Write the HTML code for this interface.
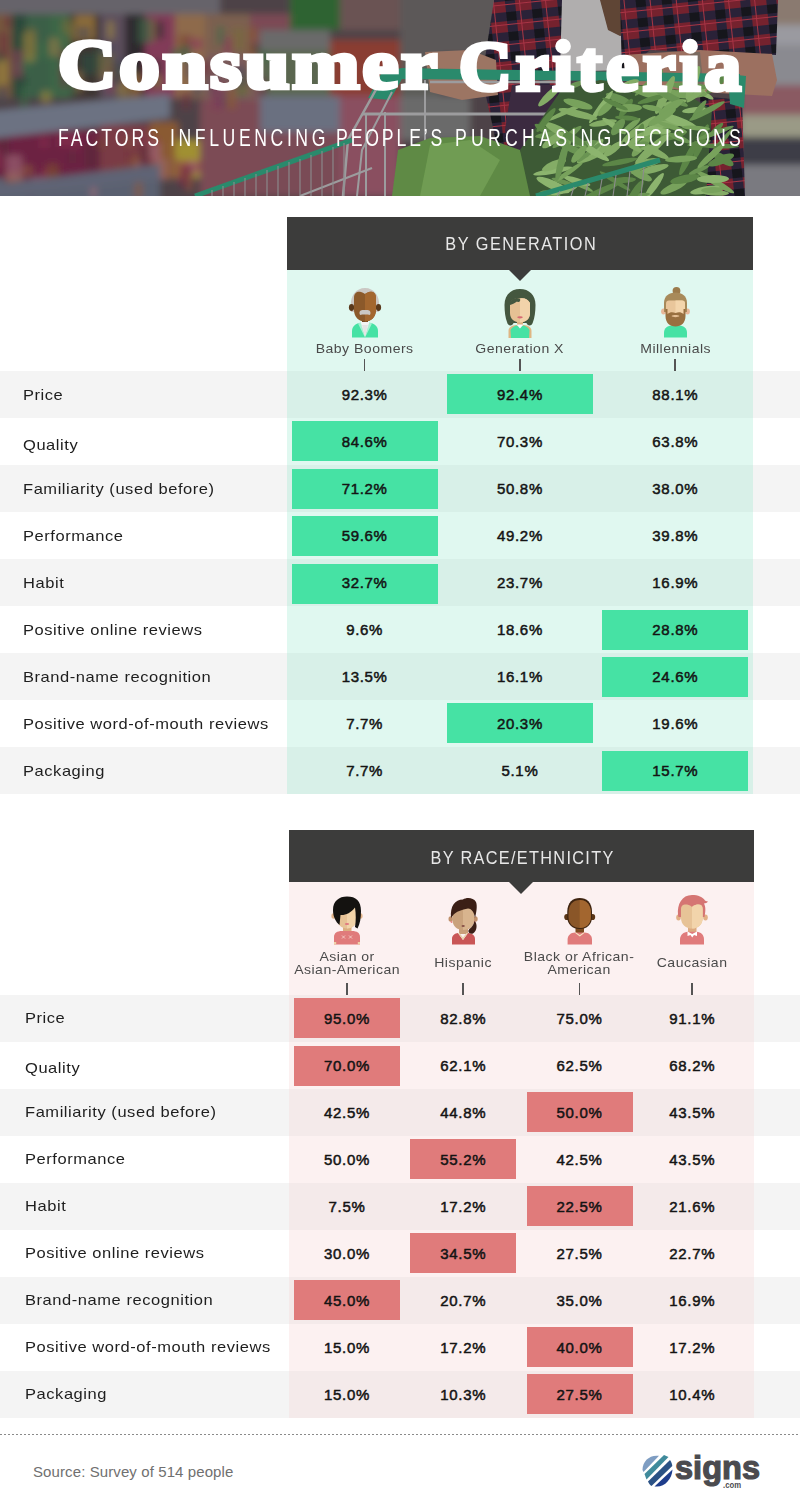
<!DOCTYPE html>
<html><head><meta charset="utf-8"><style>
*{margin:0;padding:0;box-sizing:border-box}
html,body{width:800px;height:1511px;overflow:hidden;background:#fff;font-family:"Liberation Sans",sans-serif}
.a{position:absolute}
.lbl{position:absolute;left:23px;font-size:15px;letter-spacing:0.5px;color:#1e1e1e;white-space:nowrap;line-height:17px;transform-origin:0 0;transform:scaleX(1.1)}
.pct{position:absolute;font-size:15px;letter-spacing:0.7px;color:#141414;-webkit-text-stroke:0.5px #141414;text-align:center;line-height:17px;white-space:nowrap}
.hdr{position:absolute;background:#3c3c3b;color:#e8e8e8;font-size:18.5px;text-align:center;white-space:nowrap}
.sub{position:absolute;font-size:13px;letter-spacing:0.45px;color:#4a4a4a;text-align:center;line-height:13px;white-space:nowrap;transform-origin:50% 0;transform:scaleX(1.08)}
.tick{position:absolute;width:1.6px;height:12.5px;background:#555}
</style></head><body>

<div class="a" style="left:0;top:0;width:800px;height:196px;overflow:hidden;background:#55494c">
<svg width="800" height="196" viewBox="0 0 800 196" style="position:absolute;left:0;top:0">
<defs><filter id="b1" x="-10%" y="-10%" width="120%" height="120%"><feGaussianBlur stdDeviation="3.5"/></filter>
<filter id="b2" x="-10%" y="-10%" width="120%" height="120%"><feGaussianBlur stdDeviation="0.7"/></filter>
<pattern id="pl" width="26" height="20" patternUnits="userSpaceOnUse" patternTransform="rotate(-6)"><rect width="26" height="20" fill="#74202e"/><rect x="0" y="5" width="26" height="9" fill="#2a2438"/><rect x="8" y="0" width="10" height="20" fill="#2a2438"/><rect x="8" y="5" width="10" height="9" fill="#18161f"/><rect x="0" y="17" width="26" height="1" fill="#a83444"/><rect x="22" y="0" width="1" height="20" fill="#a83444"/></pattern></defs>
<g filter="url(#b1)">
<rect x="-20" y="-20" width="840" height="240" fill="#4e4246"/>
<rect x="-20" y="-20" width="240" height="34" fill="#66646a"/>
<rect x="-20" y="14" width="32" height="84" fill="#76583e"/>
<rect x="12" y="14" width="14" height="84" fill="#2a4a3a"/>
<rect x="26" y="14" width="24" height="84" fill="#3a5e46"/>
<rect x="50" y="14" width="20" height="84" fill="#3e6646"/>
<rect x="70" y="14" width="30" height="84" fill="#3c3632"/>
<rect x="75" y="15" width="20" height="25" fill="#8a6a38"/>
<rect x="100" y="14" width="25" height="84" fill="#5c4e5c"/>
<rect x="125" y="14" width="20" height="84" fill="#2e2c2e"/>
<rect x="145" y="14" width="30" height="84" fill="#823a58"/>
<rect x="175" y="14" width="30" height="84" fill="#8e6a4c"/>
<rect x="205" y="14" width="45" height="40" fill="#7c6050"/>
<rect x="250" y="14" width="40" height="30" fill="#7c4a54"/>
<rect x="290" y="-10" width="50" height="40" fill="#2e6432"/>
<rect x="340" y="-10" width="60" height="40" fill="#6a5252"/>
<rect x="205" y="54" width="55" height="50" fill="#7a5a5a"/>
<rect x="260" y="30" width="70" height="20" fill="#6a6a6a"/>
<rect x="260" y="50" width="70" height="50" fill="#5a6650"/>
<rect x="330" y="40" width="70" height="60" fill="#8a3e30"/>
<rect x="400" y="-10" width="100" height="65" fill="#5c5858"/>
<rect x="400" y="55" width="40" height="45" fill="#5a5a56"/>
<rect x="-20" y="130" width="120" height="48" fill="#6c2242"/>
<rect x="100" y="125" width="50" height="52" fill="#7a3a44"/>
<rect x="150" y="122" width="28" height="55" fill="#8a5a32"/>
<rect x="175" y="140" width="30" height="38" fill="#a09032"/>
<rect x="200" y="100" width="60" height="96" fill="#7c4c54"/>
<rect x="260" y="96" width="100" height="36" fill="#6a7080"/>
<rect x="260" y="132" width="90" height="64" fill="#7a4c56"/>
<rect x="340" y="96" width="60" height="100" fill="#8a5060"/>
<rect x="-20" y="178" width="180" height="40" fill="#5a6070"/>
<rect x="400" y="96" width="70" height="44" fill="#6a6a6a"/>
<rect x="770" y="-20" width="50" height="45" fill="#8a7a70"/>
<rect x="770" y="25" width="50" height="20" fill="#9a9aa0"/>
<rect x="745" y="45" width="75" height="40" fill="#8a8a90"/>
<rect x="740" y="85" width="80" height="30" fill="#8a5a62"/>
<rect x="740" y="115" width="80" height="22" fill="#9a9a86"/>
<rect x="740" y="137" width="80" height="28" fill="#3e3e46"/>
<rect x="740" y="165" width="80" height="45" fill="#7a7a80"/>
<rect x="77" y="27" width="13" height="11" fill="#4a4a5a" opacity="0.6"/>
<rect x="15" y="60" width="15" height="14" fill="#3c6a48" opacity="0.6"/>
<rect x="107" y="21" width="7" height="18" fill="#a08a40" opacity="0.6"/>
<rect x="23" y="33" width="12" height="29" fill="#a08a40" opacity="0.6"/>
<rect x="148" y="20" width="8" height="21" fill="#7a6a3a" opacity="0.6"/>
<rect x="68" y="27" width="7" height="16" fill="#7a6a3a" opacity="0.6"/>
<rect x="18" y="59" width="8" height="12" fill="#3c6a48" opacity="0.6"/>
<rect x="142" y="63" width="11" height="21" fill="#6a3040" opacity="0.6"/>
<rect x="116" y="86" width="10" height="15" fill="#7a6a3a" opacity="0.6"/>
<rect x="179" y="35" width="12" height="21" fill="#6a3040" opacity="0.6"/>
<rect x="187" y="38" width="16" height="12" fill="#8a3a58" opacity="0.6"/>
<rect x="35" y="42" width="15" height="18" fill="#3c6a48" opacity="0.6"/>
<rect x="196" y="60" width="15" height="16" fill="#6a3040" opacity="0.6"/>
<rect x="150" y="60" width="11" height="27" fill="#2a2a2c" opacity="0.6"/>
<rect x="118" y="66" width="7" height="24" fill="#a08a40" opacity="0.6"/>
<rect x="258" y="78" width="9" height="18" fill="#6a3040" opacity="0.6"/>
<rect x="-4" y="51" width="8" height="12" fill="#2c5040" opacity="0.6"/>
<rect x="49" y="38" width="13" height="18" fill="#9a7a48" opacity="0.6"/>
<rect x="12" y="50" width="11" height="28" fill="#8a3a58" opacity="0.6"/>
<rect x="223" y="37" width="10" height="17" fill="#8a3a58" opacity="0.6"/>
<rect x="249" y="27" width="8" height="15" fill="#8a5a30" opacity="0.6"/>
<rect x="-7" y="79" width="8" height="16" fill="#7a6a3a" opacity="0.6"/>
<rect x="103" y="44" width="12" height="29" fill="#4a4a5a" opacity="0.6"/>
<rect x="247" y="66" width="13" height="19" fill="#4a4a5a" opacity="0.6"/>
<rect x="96" y="46" width="7" height="23" fill="#2c5040" opacity="0.6"/>
<rect x="41" y="91" width="10" height="12" fill="#a08a40" opacity="0.6"/>
<rect x="4" y="16" width="8" height="12" fill="#6a3040" opacity="0.6"/>
<rect x="156" y="21" width="8" height="18" fill="#2a2a2c" opacity="0.6"/>
<rect x="248" y="62" width="11" height="12" fill="#9a7a48" opacity="0.6"/>
<rect x="258" y="51" width="11" height="12" fill="#3c6a48" opacity="0.6"/>
<rect x="192" y="72" width="11" height="24" fill="#4a4a5a" opacity="0.6"/>
<rect x="-4" y="88" width="11" height="13" fill="#4a4a5a" opacity="0.6"/>
<rect x="237" y="74" width="9" height="23" fill="#3c6a48" opacity="0.6"/>
<rect x="178" y="36" width="10" height="13" fill="#8a5a30" opacity="0.6"/>
<rect x="134" y="75" width="9" height="14" fill="#8a5a30" opacity="0.6"/>
<rect x="208" y="78" width="13" height="15" fill="#4a4a5a" opacity="0.6"/>
<rect x="123" y="72" width="16" height="26" fill="#9a7a48" opacity="0.6"/>
<rect x="60" y="69" width="16" height="19" fill="#6a3040" opacity="0.6"/>
<rect x="248" y="44" width="8" height="15" fill="#8a5a30" opacity="0.6"/>
<rect x="81" y="53" width="16" height="22" fill="#2c5040" opacity="0.6"/>
<rect x="119" y="66" width="14" height="12" fill="#3c6a48" opacity="0.6"/>
<rect x="236" y="75" width="14" height="20" fill="#7a6a3a" opacity="0.6"/>
<rect x="107" y="64" width="7" height="29" fill="#8a3a58" opacity="0.6"/>
<rect x="115" y="72" width="7" height="13" fill="#7a6a3a" opacity="0.6"/>
<rect x="-3" y="61" width="11" height="23" fill="#a08a40" opacity="0.6"/>
<rect x="213" y="91" width="13" height="17" fill="#4a4a5a" opacity="0.6"/>
<rect x="138" y="18" width="14" height="25" fill="#3c6a48" opacity="0.6"/>
<rect x="132" y="87" width="10" height="27" fill="#8a5a30" opacity="0.6"/>
<rect x="-2" y="32" width="11" height="25" fill="#6a3040" opacity="0.6"/>
<rect x="60" y="48" width="7" height="28" fill="#6a3040" opacity="0.6"/>
<rect x="232" y="66" width="14" height="20" fill="#4a4a5a" opacity="0.6"/>
<rect x="25" y="28" width="11" height="27" fill="#7a6a3a" opacity="0.6"/>
<rect x="154" y="75" width="7" height="13" fill="#a08a40" opacity="0.6"/>
<rect x="186" y="58" width="9" height="20" fill="#4a4a5a" opacity="0.6"/>
<rect x="120" y="75" width="15" height="11" fill="#8a5a30" opacity="0.6"/>
<rect x="65" y="75" width="11" height="21" fill="#3c6a48" opacity="0.6"/>
<rect x="110" y="63" width="11" height="20" fill="#2a2a2c" opacity="0.6"/>
<rect x="112" y="57" width="11" height="29" fill="#4a4a5a" opacity="0.6"/>
<rect x="227" y="88" width="9" height="21" fill="#8a5a30" opacity="0.6"/>
<rect x="217" y="26" width="7" height="19" fill="#3c6a48" opacity="0.6"/>
<rect x="171" y="49" width="8" height="16" fill="#3c6a48" opacity="0.6"/>
<rect x="232" y="28" width="13" height="23" fill="#7a6a3a" opacity="0.6"/>
<rect x="58" y="26" width="11" height="25" fill="#3c6a48" opacity="0.6"/>
<rect x="98" y="53" width="16" height="27" fill="#7a6a3a" opacity="0.6"/>
<rect x="181" y="92" width="10" height="18" fill="#6a3040" opacity="0.6"/>
<rect x="76" y="71" width="6" height="21" fill="#9a7a48" opacity="0.6"/>
<rect x="180" y="45" width="11" height="16" fill="#3c6a48" opacity="0.6"/>
<rect x="20" y="86" width="8" height="28" fill="#3c6a48" opacity="0.6"/>
<rect x="62" y="19" width="14" height="15" fill="#7a6a3a" opacity="0.6"/>
<rect x="211" y="81" width="13" height="29" fill="#8a3a58" opacity="0.6"/>
<rect x="21" y="174" width="12" height="21" fill="#6a2040" opacity="0.6"/>
<rect x="49" y="169" width="8" height="23" fill="#7a4a30" opacity="0.6"/>
<rect x="187" y="161" width="14" height="11" fill="#8a3050" opacity="0.6"/>
<rect x="4" y="172" width="11" height="15" fill="#5a2a3a" opacity="0.6"/>
<rect x="78" y="174" width="12" height="11" fill="#8a5a40" opacity="0.6"/>
<rect x="40" y="137" width="8" height="11" fill="#8a3050" opacity="0.6"/>
<rect x="186" y="161" width="11" height="13" fill="#a06a7a" opacity="0.6"/>
<rect x="95" y="140" width="9" height="10" fill="#7a4a30" opacity="0.6"/>
<rect x="-2" y="133" width="11" height="25" fill="#5a2a3a" opacity="0.6"/>
<rect x="90" y="175" width="7" height="22" fill="#a06a7a" opacity="0.6"/>
<rect x="128" y="157" width="15" height="25" fill="#7a4a30" opacity="0.6"/>
<rect x="134" y="177" width="9" height="22" fill="#8a5a40" opacity="0.6"/>
<rect x="143" y="138" width="16" height="25" fill="#8a3050" opacity="0.6"/>
<rect x="-7" y="161" width="15" height="16" fill="#6a2040" opacity="0.6"/>
<rect x="8" y="171" width="15" height="20" fill="#7a4a30" opacity="0.6"/>
<rect x="116" y="164" width="6" height="13" fill="#7a4a30" opacity="0.6"/>
<rect x="84" y="144" width="16" height="25" fill="#5a2a3a" opacity="0.6"/>
<rect x="58" y="134" width="15" height="13" fill="#8a3050" opacity="0.6"/>
<rect x="-10" y="150" width="11" height="18" fill="#8a3050" opacity="0.6"/>
<rect x="42" y="168" width="7" height="22" fill="#8a3050" opacity="0.6"/>
<rect x="74" y="134" width="6" height="15" fill="#8a3050" opacity="0.6"/>
<rect x="8" y="176" width="15" height="12" fill="#8a5a40" opacity="0.6"/>
<rect x="155" y="159" width="14" height="21" fill="#a06a7a" opacity="0.6"/>
<rect x="21" y="165" width="12" height="11" fill="#8a5a40" opacity="0.6"/>
<rect x="177" y="161" width="13" height="22" fill="#8a3050" opacity="0.6"/>
<rect x="181" y="167" width="12" height="22" fill="#6a2040" opacity="0.6"/>
<rect x="164" y="159" width="15" height="20" fill="#8a5a40" opacity="0.6"/>
<rect x="125" y="136" width="6" height="20" fill="#6a2040" opacity="0.6"/>
<rect x="69" y="153" width="7" height="10" fill="#5a2a3a" opacity="0.6"/>
<rect x="133" y="155" width="6" height="22" fill="#8a5a40" opacity="0.6"/>
<rect x="186" y="173" width="7" height="18" fill="#8a5a40" opacity="0.6"/>
<rect x="145" y="144" width="7" height="14" fill="#8a5a40" opacity="0.6"/>
<rect x="149" y="143" width="12" height="17" fill="#a06a7a" opacity="0.6"/>
<rect x="6" y="174" width="9" height="11" fill="#8a5a40" opacity="0.6"/>
<rect x="125" y="136" width="7" height="14" fill="#8a5a40" opacity="0.6"/>
<rect x="136" y="161" width="7" height="17" fill="#a06a7a" opacity="0.6"/>
<rect x="46" y="163" width="13" height="20" fill="#7a4a30" opacity="0.6"/>
<rect x="139" y="145" width="11" height="22" fill="#5a2a3a" opacity="0.6"/>
<rect x="32" y="177" width="15" height="10" fill="#a06a7a" opacity="0.6"/>
<rect x="6" y="155" width="16" height="25" fill="#a06a7a" opacity="0.6"/>
<polygon points="-20,112 170,94 170,118 -20,140" fill="#6c7282"/>
<polygon points="-20,186 160,164 160,180 -20,200" fill="#5e6474"/>
</g><g filter="url(#b2)">

<polygon points="494,0 572,0 570,76 556,100 520,130 512,175 500,160 482,78" fill="url(#pl)"/>

<polygon points="562,0 628,0 626,40 622,70 560,72" fill="#b0aeae"/>
<polygon points="600,0 652,0 645,30 620,36 608,30" fill="#5e4436"/>
<polygon points="620,0 778,0 776,55 700,52 650,50 622,75" fill="url(#pl)"/>

<polygon points="623,55 700,50 772,54 777,80 772,96 700,92 628,90" fill="#9c7060"/><polygon points="690,52 700,52 704,90 694,90" fill="#7a6a60"/>
<polygon points="512,85 560,85 556,100 540,130 520,165 512,175 505,130" fill="#3a2a40"/><polygon points="425,52 470,50 496,60 498,95 462,100 430,92" fill="#9c7464"/>
<polygon points="700,96 742,100 745,196 704,196" fill="url(#pl)"/>
<polygon points="368,98 382,72 402,68 740,74 740,82 402,79 390,100" fill="#2a8a6c"/>
<g stroke="#9c9c9e" fill="none">
<polyline points="378,86 348,140 343,196" stroke-width="2.5"/>
<polyline points="392,92 362,150 357,196" stroke-width="2"/>
<polyline points="362,114 600,114" stroke-width="3"/>
<polyline points="425,80 425,196" stroke-width="2"/>
<polyline points="385,112 385,196" stroke-width="2"/>
<polyline points="366,114 366,196" stroke-width="2"/>
<polyline points="430,82 560,82" stroke-width="2.5"/>
<polyline points="300,196 372,168" stroke-width="2"/>
</g>
<polygon points="398,150 430,138 480,136 520,150 540,196 392,196" fill="#5e8a44"/>
<polygon points="430,145 470,140 500,160 480,196 420,196" fill="#709c52"/>
<polygon points="560,92 600,80 680,90 712,110 706,196 530,196 520,150" fill="#3c5a34"/>

<ellipse cx="588" cy="144" rx="14" ry="3.6" fill="#6a9452" transform="rotate(-6 588 144)"/>
<ellipse cx="654" cy="186" rx="16" ry="3.5" fill="#8cb46e" transform="rotate(-54 654 186)"/>
<ellipse cx="642" cy="145" rx="15" ry="4.2" fill="#78a25c" transform="rotate(-49 642 145)"/>
<ellipse cx="701" cy="142" rx="19" ry="3.7" fill="#5c8646" transform="rotate(-68 701 142)"/>
<ellipse cx="553" cy="171" rx="20" ry="2.8" fill="#8cb46e" transform="rotate(-10 553 171)"/>
<ellipse cx="674" cy="187" rx="15" ry="4.0" fill="#78a25c" transform="rotate(-26 674 187)"/>
<ellipse cx="703" cy="93" rx="12" ry="2.7" fill="#8cb46e" transform="rotate(31 703 93)"/>
<ellipse cx="685" cy="179" rx="15" ry="4.1" fill="#5c8646" transform="rotate(-12 685 179)"/>
<ellipse cx="650" cy="149" rx="21" ry="3.8" fill="#84ac66" transform="rotate(27 650 149)"/>
<ellipse cx="723" cy="159" rx="12" ry="4.2" fill="#5c8646" transform="rotate(31 723 159)"/>
<ellipse cx="647" cy="163" rx="13" ry="4.1" fill="#84ac66" transform="rotate(-12 647 163)"/>
<ellipse cx="567" cy="137" rx="18" ry="3.3" fill="#6a9452" transform="rotate(-37 567 137)"/>
<ellipse cx="619" cy="99" rx="14" ry="4.0" fill="#6a9452" transform="rotate(21 619 99)"/>
<ellipse cx="654" cy="169" rx="15" ry="3.5" fill="#84ac66" transform="rotate(-14 654 169)"/>
<ellipse cx="636" cy="196" rx="14" ry="2.4" fill="#6a9452" transform="rotate(-9 636 196)"/>
<ellipse cx="716" cy="193" rx="13" ry="2.8" fill="#84ac66" transform="rotate(1 716 193)"/>
<ellipse cx="601" cy="191" rx="21" ry="3.1" fill="#5c8646" transform="rotate(-24 601 191)"/>
<ellipse cx="615" cy="181" rx="18" ry="2.4" fill="#5c8646" transform="rotate(32 615 181)"/>
<ellipse cx="594" cy="154" rx="19" ry="4.4" fill="#84ac66" transform="rotate(-27 594 154)"/>
<ellipse cx="639" cy="145" rx="10" ry="3.2" fill="#6a9452" transform="rotate(-11 639 145)"/>
<ellipse cx="613" cy="149" rx="12" ry="3.7" fill="#84ac66" transform="rotate(-38 613 149)"/>
<ellipse cx="667" cy="122" rx="18" ry="3.9" fill="#6a9452" transform="rotate(-73 667 122)"/>
<ellipse cx="717" cy="84" rx="14" ry="3.6" fill="#5c8646" transform="rotate(-42 717 84)"/>
<ellipse cx="603" cy="123" rx="14" ry="3.0" fill="#84ac66" transform="rotate(-9 603 123)"/>
<ellipse cx="687" cy="94" rx="20" ry="4.4" fill="#78a25c" transform="rotate(0 687 94)"/>
<ellipse cx="601" cy="107" rx="20" ry="2.7" fill="#8cb46e" transform="rotate(-54 601 107)"/>
<ellipse cx="662" cy="93" rx="17" ry="4.4" fill="#78a25c" transform="rotate(-1 662 93)"/>
<ellipse cx="624" cy="180" rx="12" ry="3.0" fill="#5c8646" transform="rotate(-3 624 180)"/>
<ellipse cx="626" cy="108" rx="11" ry="3.4" fill="#5c8646" transform="rotate(-54 626 108)"/>
<ellipse cx="578" cy="114" rx="20" ry="3.7" fill="#84ac66" transform="rotate(14 578 114)"/>
<ellipse cx="651" cy="130" rx="16" ry="4.2" fill="#8cb46e" transform="rotate(-24 651 130)"/>
<ellipse cx="597" cy="147" rx="10" ry="3.2" fill="#8cb46e" transform="rotate(-53 597 147)"/>
<ellipse cx="715" cy="182" rx="22" ry="3.2" fill="#78a25c" transform="rotate(30 715 182)"/>
<ellipse cx="551" cy="134" rx="19" ry="3.9" fill="#5c8646" transform="rotate(31 551 134)"/>
<ellipse cx="606" cy="108" rx="11" ry="3.6" fill="#78a25c" transform="rotate(-43 606 108)"/>
<ellipse cx="553" cy="185" rx="18" ry="4.3" fill="#8cb46e" transform="rotate(24 553 185)"/>
<ellipse cx="649" cy="83" rx="19" ry="2.6" fill="#6a9452" transform="rotate(-42 649 83)"/>
<ellipse cx="639" cy="129" rx="21" ry="3.6" fill="#84ac66" transform="rotate(-37 639 129)"/>
<ellipse cx="720" cy="144" rx="20" ry="2.3" fill="#6a9452" transform="rotate(-51 720 144)"/>
<ellipse cx="641" cy="175" rx="12" ry="4.0" fill="#78a25c" transform="rotate(26 641 175)"/>
<ellipse cx="693" cy="83" rx="18" ry="4.2" fill="#84ac66" transform="rotate(-70 693 83)"/>
<ellipse cx="590" cy="152" rx="16" ry="2.3" fill="#6a9452" transform="rotate(-39 590 152)"/>
<ellipse cx="699" cy="170" rx="11" ry="2.3" fill="#6a9452" transform="rotate(-22 699 170)"/>
<ellipse cx="699" cy="92" rx="16" ry="2.9" fill="#84ac66" transform="rotate(-40 699 92)"/>
<ellipse cx="614" cy="126" rx="14" ry="2.8" fill="#8cb46e" transform="rotate(34 614 126)"/>
<ellipse cx="567" cy="145" rx="19" ry="3.1" fill="#78a25c" transform="rotate(-66 567 145)"/>
<ellipse cx="553" cy="135" rx="18" ry="3.4" fill="#6a9452" transform="rotate(-5 553 135)"/>
<ellipse cx="657" cy="131" rx="14" ry="3.3" fill="#8cb46e" transform="rotate(2 657 131)"/>
<ellipse cx="716" cy="130" rx="10" ry="2.7" fill="#5c8646" transform="rotate(-45 716 130)"/>
<ellipse cx="558" cy="130" rx="15" ry="4.2" fill="#84ac66" transform="rotate(28 558 130)"/>
<ellipse cx="719" cy="146" rx="20" ry="2.5" fill="#5c8646" transform="rotate(1 719 146)"/>
<ellipse cx="688" cy="158" rx="19" ry="3.5" fill="#5c8646" transform="rotate(-64 688 158)"/>
<ellipse cx="674" cy="136" rx="13" ry="3.1" fill="#5c8646" transform="rotate(-17 674 136)"/>
<ellipse cx="563" cy="182" rx="12" ry="2.3" fill="#6a9452" transform="rotate(18 563 182)"/>
<ellipse cx="550" cy="95" rx="16" ry="3.8" fill="#84ac66" transform="rotate(-44 550 95)"/>
<ellipse cx="689" cy="86" rx="19" ry="3.4" fill="#6a9452" transform="rotate(4 689 86)"/>
<ellipse cx="645" cy="93" rx="17" ry="3.5" fill="#78a25c" transform="rotate(21 645 93)"/>
<ellipse cx="694" cy="110" rx="12" ry="2.8" fill="#8cb46e" transform="rotate(-7 694 110)"/>
<ellipse cx="591" cy="150" rx="21" ry="3.5" fill="#8cb46e" transform="rotate(31 591 150)"/>
<ellipse cx="635" cy="193" rx="15" ry="3.9" fill="#5c8646" transform="rotate(-57 635 193)"/>
<ellipse cx="681" cy="159" rx="16" ry="3.3" fill="#78a25c" transform="rotate(-4 681 159)"/>
<ellipse cx="574" cy="139" rx="16" ry="3.8" fill="#5c8646" transform="rotate(30 574 139)"/>
<ellipse cx="674" cy="103" rx="13" ry="2.7" fill="#84ac66" transform="rotate(-11 674 103)"/>
<ellipse cx="713" cy="179" rx="16" ry="4.0" fill="#8cb46e" transform="rotate(-1 713 179)"/>
<ellipse cx="652" cy="149" rx="22" ry="4.2" fill="#84ac66" transform="rotate(-41 652 149)"/>
<ellipse cx="631" cy="126" rx="12" ry="3.0" fill="#78a25c" transform="rotate(-40 631 126)"/>
<ellipse cx="620" cy="162" rx="18" ry="2.7" fill="#5c8646" transform="rotate(-11 620 162)"/>
<ellipse cx="550" cy="195" rx="11" ry="4.4" fill="#6a9452" transform="rotate(11 550 195)"/>
<ellipse cx="629" cy="108" rx="13" ry="3.9" fill="#78a25c" transform="rotate(-1 629 108)"/>
<ellipse cx="699" cy="110" rx="12" ry="2.8" fill="#6a9452" transform="rotate(-54 699 110)"/>
<ellipse cx="707" cy="111" rx="20" ry="2.9" fill="#6a9452" transform="rotate(-28 707 111)"/>
<ellipse cx="566" cy="112" rx="21" ry="2.3" fill="#84ac66" transform="rotate(-25 566 112)"/>
<ellipse cx="546" cy="120" rx="15" ry="3.3" fill="#5c8646" transform="rotate(-52 546 120)"/>
<ellipse cx="679" cy="138" rx="12" ry="2.9" fill="#6a9452" transform="rotate(22 679 138)"/>
<ellipse cx="665" cy="95" rx="21" ry="4.3" fill="#84ac66" transform="rotate(-64 665 95)"/>
<ellipse cx="667" cy="124" rx="15" ry="3.7" fill="#84ac66" transform="rotate(-1 667 124)"/>
<ellipse cx="564" cy="190" rx="14" ry="3.5" fill="#8cb46e" transform="rotate(-17 564 190)"/>
<ellipse cx="637" cy="89" rx="14" ry="3.9" fill="#78a25c" transform="rotate(7 637 89)"/>
<ellipse cx="577" cy="183" rx="18" ry="2.5" fill="#78a25c" transform="rotate(28 577 183)"/>
<ellipse cx="711" cy="156" rx="18" ry="3.2" fill="#78a25c" transform="rotate(-42 711 156)"/>
<ellipse cx="627" cy="118" rx="12" ry="2.4" fill="#5c8646" transform="rotate(4 627 118)"/>
<ellipse cx="643" cy="166" rx="14" ry="2.8" fill="#78a25c" transform="rotate(-33 643 166)"/>
<ellipse cx="553" cy="140" rx="13" ry="4.0" fill="#84ac66" transform="rotate(-36 553 140)"/>
<ellipse cx="715" cy="133" rx="20" ry="2.4" fill="#6a9452" transform="rotate(-20 715 133)"/>
<ellipse cx="572" cy="149" rx="18" ry="3.5" fill="#6a9452" transform="rotate(25 572 149)"/>
<ellipse cx="578" cy="104" rx="15" ry="3.9" fill="#78a25c" transform="rotate(15 578 104)"/>
<ellipse cx="652" cy="99" rx="15" ry="2.6" fill="#5c8646" transform="rotate(-17 652 99)"/>
<ellipse cx="577" cy="181" rx="14" ry="2.9" fill="#8cb46e" transform="rotate(18 577 181)"/>
<ellipse cx="705" cy="190" rx="15" ry="3.5" fill="#8cb46e" transform="rotate(-11 705 190)"/>
<ellipse cx="721" cy="160" rx="14" ry="4.2" fill="#5c8646" transform="rotate(-22 721 160)"/>
<ellipse cx="579" cy="154" rx="11" ry="3.9" fill="#78a25c" transform="rotate(-49 579 154)"/>
<ellipse cx="639" cy="135" rx="12" ry="3.4" fill="#5c8646" transform="rotate(-71 639 135)"/>
<ellipse cx="712" cy="190" rx="11" ry="2.9" fill="#78a25c" transform="rotate(-3 712 190)"/>
<ellipse cx="569" cy="172" rx="17" ry="2.3" fill="#78a25c" transform="rotate(-35 569 172)"/>
<ellipse cx="636" cy="139" rx="10" ry="3.0" fill="#84ac66" transform="rotate(-39 636 139)"/>
<ellipse cx="670" cy="97" rx="20" ry="3.6" fill="#6a9452" transform="rotate(27 670 97)"/>
<ellipse cx="678" cy="121" rx="20" ry="4.3" fill="#8cb46e" transform="rotate(20 678 121)"/>
<ellipse cx="671" cy="107" rx="14" ry="4.0" fill="#78a25c" transform="rotate(-30 671 107)"/>
<ellipse cx="672" cy="127" rx="16" ry="2.4" fill="#78a25c" transform="rotate(19 672 127)"/>
<ellipse cx="662" cy="117" rx="16" ry="3.9" fill="#78a25c" transform="rotate(-31 662 117)"/>
<ellipse cx="627" cy="86" rx="13" ry="4.2" fill="#84ac66" transform="rotate(-26 627 86)"/>
<ellipse cx="652" cy="108" rx="10" ry="2.7" fill="#78a25c" transform="rotate(11 652 108)"/>
<ellipse cx="699" cy="143" rx="12" ry="2.3" fill="#5c8646" transform="rotate(-11 699 143)"/>
<ellipse cx="575" cy="85" rx="11" ry="2.6" fill="#6a9452" transform="rotate(-21 575 85)"/>
<ellipse cx="696" cy="128" rx="14" ry="2.3" fill="#78a25c" transform="rotate(4 696 128)"/>
<ellipse cx="618" cy="127" rx="10" ry="4.4" fill="#6a9452" transform="rotate(-51 618 127)"/>
<ellipse cx="615" cy="104" rx="14" ry="2.5" fill="#5c8646" transform="rotate(25 615 104)"/>
<ellipse cx="554" cy="165" rx="13" ry="4.0" fill="#84ac66" transform="rotate(-24 554 165)"/>
<ellipse cx="633" cy="146" rx="10" ry="3.0" fill="#84ac66" transform="rotate(34 633 146)"/>
<ellipse cx="562" cy="160" rx="22" ry="3.6" fill="#6a9452" transform="rotate(-75 562 160)"/>
<polyline points="195,196 352,140" stroke="#2a8a6c" stroke-width="5" fill="none"/>
<polyline points="536,196 660,160" stroke="#2a8a6c" stroke-width="5" fill="none"/><polygon points="728,74 746,76 744,108 730,104" fill="#2a8a6c"/>
<line x1="212" y1="190" x2="212" y2="196" stroke="#8c8c8e" stroke-width="1.1"/>
<line x1="223" y1="186" x2="223" y2="196" stroke="#8c8c8e" stroke-width="1.1"/>
<line x1="234" y1="182" x2="234" y2="196" stroke="#8c8c8e" stroke-width="1.1"/>
<line x1="245" y1="178" x2="245" y2="196" stroke="#8c8c8e" stroke-width="1.1"/>
<line x1="256" y1="174" x2="256" y2="196" stroke="#8c8c8e" stroke-width="1.1"/>
<line x1="267" y1="170" x2="267" y2="196" stroke="#8c8c8e" stroke-width="1.1"/>
<line x1="278" y1="166" x2="278" y2="196" stroke="#8c8c8e" stroke-width="1.1"/>
<line x1="289" y1="162" x2="289" y2="196" stroke="#8c8c8e" stroke-width="1.1"/>
<line x1="300" y1="159" x2="300" y2="196" stroke="#8c8c8e" stroke-width="1.1"/>
<line x1="311" y1="155" x2="311" y2="196" stroke="#8c8c8e" stroke-width="1.1"/>
<line x1="322" y1="151" x2="322" y2="196" stroke="#8c8c8e" stroke-width="1.1"/>
<line x1="333" y1="147" x2="333" y2="196" stroke="#8c8c8e" stroke-width="1.1"/>
<line x1="344" y1="143" x2="344" y2="196" stroke="#8c8c8e" stroke-width="1.1"/>
<line x1="560" y1="191" x2="557" y2="196" stroke="#8c8c8e" stroke-width="1.1"/>
<line x1="574" y1="187" x2="571" y2="196" stroke="#8c8c8e" stroke-width="1.1"/>
<line x1="588" y1="183" x2="585" y2="196" stroke="#8c8c8e" stroke-width="1.1"/>
<line x1="602" y1="179" x2="599" y2="196" stroke="#8c8c8e" stroke-width="1.1"/>
<line x1="616" y1="175" x2="613" y2="196" stroke="#8c8c8e" stroke-width="1.1"/>
<line x1="630" y1="171" x2="627" y2="196" stroke="#8c8c8e" stroke-width="1.1"/>
<line x1="644" y1="167" x2="641" y2="196" stroke="#8c8c8e" stroke-width="1.1"/>
</g></svg></div>
<div class="a" style="left:57.75px;top:14.75px;white-space:nowrap;color:#fff;line-height:100px;font-family:Liberation Serif;font-weight:bold;font-size:70px;-webkit-text-stroke:4.5px #fff;letter-spacing:2.621px;transform-origin:0 0;transform:scaleX(1.1500)">Consumer</div>
<div class="a" style="left:459.00px;top:16.75px;white-space:nowrap;color:#fff;line-height:100px;font-family:Liberation Serif;font-weight:bold;font-size:70px;-webkit-text-stroke:4.5px #fff;letter-spacing:4.308px;transform-origin:0 0;transform:scaleX(1.0400)">Criteria</div>
<div class="a" style="left:57.75px;top:87.75px;white-space:nowrap;color:#fff;line-height:100px;font-family:Liberation Sans;font-size:24.5px;letter-spacing:4.192px;transform-origin:0 0;transform:scaleX(0.7200)">FACTORS</div>
<div class="a" style="left:169.50px;top:87.75px;white-space:nowrap;color:#fff;line-height:100px;font-family:Liberation Sans;font-size:24.5px;letter-spacing:4.978px;transform-origin:0 0;transform:scaleX(0.7200)">INFLUENCING</div>
<div class="a" style="left:335.90px;top:87.75px;white-space:nowrap;color:#fff;line-height:100px;font-family:Liberation Sans;font-size:24.5px;letter-spacing:3.990px;transform-origin:0 0;transform:scaleX(0.7200)">PEOPLE’S</div>
<div class="a" style="left:455.25px;top:87.75px;white-space:nowrap;color:#fff;line-height:100px;font-family:Liberation Sans;font-size:24.5px;letter-spacing:5.949px;transform-origin:0 0;transform:scaleX(0.7200)">PURCHASING</div>
<div class="a" style="left:617.75px;top:87.75px;white-space:nowrap;color:#fff;line-height:100px;font-family:Liberation Sans;font-size:24.5px;letter-spacing:4.464px;transform-origin:0 0;transform:scaleX(0.7200)">DECISIONS</div>
<div class="a" style="left:287px;top:270px;width:466px;height:524px;background:#e0f8f0"></div>
<div class="a" style="left:0;top:371px;width:800px;height:47px;background:#f4f4f4"></div>
<div class="a" style="left:287px;top:371px;width:466px;height:47px;background:#d8f0e8"></div>
<div class="a" style="left:0;top:465px;width:800px;height:47px;background:#f4f4f4"></div>
<div class="a" style="left:287px;top:465px;width:466px;height:47px;background:#d8f0e8"></div>
<div class="a" style="left:0;top:559px;width:800px;height:47px;background:#f4f4f4"></div>
<div class="a" style="left:287px;top:559px;width:466px;height:47px;background:#d8f0e8"></div>
<div class="a" style="left:0;top:653px;width:800px;height:47px;background:#f4f4f4"></div>
<div class="a" style="left:287px;top:653px;width:466px;height:47px;background:#d8f0e8"></div>
<div class="a" style="left:0;top:747px;width:800px;height:47px;background:#f4f4f4"></div>
<div class="a" style="left:287px;top:747px;width:466px;height:47px;background:#d8f0e8"></div>
<div class="hdr" style="left:287px;top:217px;width:466px;height:53px;line-height:53px"><span style="display:inline-block;transform:scaleX(0.88);letter-spacing:1.7px;margin-right:-1.7px">BY GENERATION</span></div>
<div class="a" style="left:507.5px;top:269px;width:0;height:0;border-left:12.75px solid transparent;border-right:12.75px solid transparent;border-top:12.5px solid #3c3c3b"></div>
<div class="a" style="left:447.0px;top:374.3px;width:146px;height:40px;background:#46e2a4"></div>
<div class="a" style="left:291.7px;top:421.0px;width:146px;height:40px;background:#46e2a4"></div>
<div class="a" style="left:291.7px;top:468.7px;width:146px;height:40px;background:#46e2a4"></div>
<div class="a" style="left:291.7px;top:516.1px;width:146px;height:40px;background:#46e2a4"></div>
<div class="a" style="left:291.7px;top:563.5px;width:146px;height:40px;background:#46e2a4"></div>
<div class="a" style="left:602.3px;top:609.9px;width:146px;height:40px;background:#46e2a4"></div>
<div class="a" style="left:602.3px;top:657.2px;width:146px;height:40px;background:#46e2a4"></div>
<div class="a" style="left:447.0px;top:702.9px;width:146px;height:40px;background:#46e2a4"></div>
<div class="a" style="left:602.3px;top:751.2px;width:146px;height:40px;background:#46e2a4"></div>
<div class="lbl" style="top:386.0px">Price</div>
<div class="pct" style="left:287.0px;top:386.0px;width:155.3px">92.3%</div>
<div class="pct" style="left:442.3px;top:386.0px;width:155.3px">92.4%</div>
<div class="pct" style="left:597.7px;top:386.0px;width:155.3px">88.1%</div>
<div class="lbl" style="top:436.0px">Quality</div>
<div class="pct" style="left:287.0px;top:433.0px;width:155.3px">84.6%</div>
<div class="pct" style="left:442.3px;top:433.0px;width:155.3px">70.3%</div>
<div class="pct" style="left:597.7px;top:433.0px;width:155.3px">63.8%</div>
<div class="lbl" style="top:480.0px">Familiarity (used before)</div>
<div class="pct" style="left:287.0px;top:480.0px;width:155.3px">71.2%</div>
<div class="pct" style="left:442.3px;top:480.0px;width:155.3px">50.8%</div>
<div class="pct" style="left:597.7px;top:480.0px;width:155.3px">38.0%</div>
<div class="lbl" style="top:527.0px">Performance</div>
<div class="pct" style="left:287.0px;top:527.0px;width:155.3px">59.6%</div>
<div class="pct" style="left:442.3px;top:527.0px;width:155.3px">49.2%</div>
<div class="pct" style="left:597.7px;top:527.0px;width:155.3px">39.8%</div>
<div class="lbl" style="top:574.0px">Habit</div>
<div class="pct" style="left:287.0px;top:574.0px;width:155.3px">32.7%</div>
<div class="pct" style="left:442.3px;top:574.0px;width:155.3px">23.7%</div>
<div class="pct" style="left:597.7px;top:574.0px;width:155.3px">16.9%</div>
<div class="lbl" style="top:621.0px">Positive online reviews</div>
<div class="pct" style="left:287.0px;top:621.0px;width:155.3px">9.6%</div>
<div class="pct" style="left:442.3px;top:621.0px;width:155.3px">18.6%</div>
<div class="pct" style="left:597.7px;top:621.0px;width:155.3px">28.8%</div>
<div class="lbl" style="top:668.0px">Brand-name recognition</div>
<div class="pct" style="left:287.0px;top:668.0px;width:155.3px">13.5%</div>
<div class="pct" style="left:442.3px;top:668.0px;width:155.3px">16.1%</div>
<div class="pct" style="left:597.7px;top:668.0px;width:155.3px">24.6%</div>
<div class="lbl" style="top:715.0px">Positive word-of-mouth reviews</div>
<div class="pct" style="left:287.0px;top:715.0px;width:155.3px">7.7%</div>
<div class="pct" style="left:442.3px;top:715.0px;width:155.3px">20.3%</div>
<div class="pct" style="left:597.7px;top:715.0px;width:155.3px">19.6%</div>
<div class="lbl" style="top:762.0px">Packaging</div>
<div class="pct" style="left:287.0px;top:762.0px;width:155.3px">7.7%</div>
<div class="pct" style="left:442.3px;top:762.0px;width:155.3px">5.1%</div>
<div class="pct" style="left:597.7px;top:762.0px;width:155.3px">15.7%</div>
<div class="sub" style="left:287.0px;top:342px;width:155.3px">Baby Boomers</div>
<div class="tick" style="left:363.7px;top:358.5px"></div>
<div class="sub" style="left:442.3px;top:342px;width:155.3px">Generation X</div>
<div class="tick" style="left:519.0px;top:358.5px"></div>
<div class="sub" style="left:597.7px;top:342px;width:155.3px">Millennials</div>
<div class="tick" style="left:674.3px;top:358.5px"></div>
<div class="a" style="left:289px;top:882px;width:465px;height:536px;background:#fcf1f1"></div>
<div class="a" style="left:0;top:995px;width:800px;height:47px;background:#f4f4f4"></div>
<div class="a" style="left:289px;top:995px;width:465px;height:47px;background:#f4eaea"></div>
<div class="a" style="left:0;top:1089px;width:800px;height:47px;background:#f4f4f4"></div>
<div class="a" style="left:289px;top:1089px;width:465px;height:47px;background:#f4eaea"></div>
<div class="a" style="left:0;top:1183px;width:800px;height:47px;background:#f4f4f4"></div>
<div class="a" style="left:289px;top:1183px;width:465px;height:47px;background:#f4eaea"></div>
<div class="a" style="left:0;top:1277px;width:800px;height:47px;background:#f4f4f4"></div>
<div class="a" style="left:289px;top:1277px;width:465px;height:47px;background:#f4eaea"></div>
<div class="a" style="left:0;top:1371px;width:800px;height:47px;background:#f4f4f4"></div>
<div class="a" style="left:289px;top:1371px;width:465px;height:47px;background:#f4eaea"></div>
<div class="hdr" style="left:289px;top:830px;width:465px;height:52px;line-height:55px"><span style="display:inline-block;transform:scaleX(0.88);letter-spacing:1.5px;margin-right:-1.5px">BY RACE/ETHNICITY</span></div>
<div class="a" style="left:508.75px;top:881.5px;width:0;height:0;border-left:12.75px solid transparent;border-right:12.75px solid transparent;border-top:12.5px solid #3c3c3b"></div>
<div class="a" style="left:294.0px;top:997.8px;width:106px;height:40px;background:#e07b7b"></div>
<div class="a" style="left:294.0px;top:1045.5px;width:106px;height:40px;background:#e07b7b"></div>
<div class="a" style="left:526.5px;top:1092.0px;width:106px;height:40px;background:#e07b7b"></div>
<div class="a" style="left:410.3px;top:1139.0px;width:106px;height:40px;background:#e07b7b"></div>
<div class="a" style="left:526.5px;top:1186.0px;width:106px;height:40px;background:#e07b7b"></div>
<div class="a" style="left:410.3px;top:1233.0px;width:106px;height:40px;background:#e07b7b"></div>
<div class="a" style="left:294.0px;top:1279.8px;width:106px;height:40px;background:#e07b7b"></div>
<div class="a" style="left:526.5px;top:1327.0px;width:106px;height:40px;background:#e07b7b"></div>
<div class="a" style="left:526.5px;top:1374.0px;width:106px;height:40px;background:#e07b7b"></div>
<div class="lbl" style="top:1009.0px;left:25px">Price</div>
<div class="pct" style="left:288.9px;top:1010.0px;width:116.2px">95.0%</div>
<div class="pct" style="left:405.2px;top:1010.0px;width:116.2px">82.8%</div>
<div class="pct" style="left:521.4px;top:1010.0px;width:116.2px">75.0%</div>
<div class="pct" style="left:634.2px;top:1010.0px;width:116.2px">91.1%</div>
<div class="lbl" style="top:1059.0px;left:25px">Quality</div>
<div class="pct" style="left:288.9px;top:1057.0px;width:116.2px">70.0%</div>
<div class="pct" style="left:405.2px;top:1057.0px;width:116.2px">62.1%</div>
<div class="pct" style="left:521.4px;top:1057.0px;width:116.2px">62.5%</div>
<div class="pct" style="left:634.2px;top:1057.0px;width:116.2px">68.2%</div>
<div class="lbl" style="top:1103.0px;left:25px">Familiarity (used before)</div>
<div class="pct" style="left:288.9px;top:1104.0px;width:116.2px">42.5%</div>
<div class="pct" style="left:405.2px;top:1104.0px;width:116.2px">44.8%</div>
<div class="pct" style="left:521.4px;top:1104.0px;width:116.2px">50.0%</div>
<div class="pct" style="left:634.2px;top:1104.0px;width:116.2px">43.5%</div>
<div class="lbl" style="top:1150.0px;left:25px">Performance</div>
<div class="pct" style="left:288.9px;top:1151.0px;width:116.2px">50.0%</div>
<div class="pct" style="left:405.2px;top:1151.0px;width:116.2px">55.2%</div>
<div class="pct" style="left:521.4px;top:1151.0px;width:116.2px">42.5%</div>
<div class="pct" style="left:634.2px;top:1151.0px;width:116.2px">43.5%</div>
<div class="lbl" style="top:1197.0px;left:25px">Habit</div>
<div class="pct" style="left:288.9px;top:1198.0px;width:116.2px">7.5%</div>
<div class="pct" style="left:405.2px;top:1198.0px;width:116.2px">17.2%</div>
<div class="pct" style="left:521.4px;top:1198.0px;width:116.2px">22.5%</div>
<div class="pct" style="left:634.2px;top:1198.0px;width:116.2px">21.6%</div>
<div class="lbl" style="top:1244.0px;left:25px">Positive online reviews</div>
<div class="pct" style="left:288.9px;top:1245.0px;width:116.2px">30.0%</div>
<div class="pct" style="left:405.2px;top:1245.0px;width:116.2px">34.5%</div>
<div class="pct" style="left:521.4px;top:1245.0px;width:116.2px">27.5%</div>
<div class="pct" style="left:634.2px;top:1245.0px;width:116.2px">22.7%</div>
<div class="lbl" style="top:1291.0px;left:25px">Brand-name recognition</div>
<div class="pct" style="left:288.9px;top:1292.0px;width:116.2px">45.0%</div>
<div class="pct" style="left:405.2px;top:1292.0px;width:116.2px">20.7%</div>
<div class="pct" style="left:521.4px;top:1292.0px;width:116.2px">35.0%</div>
<div class="pct" style="left:634.2px;top:1292.0px;width:116.2px">16.9%</div>
<div class="lbl" style="top:1338.0px;left:25px">Positive word-of-mouth reviews</div>
<div class="pct" style="left:288.9px;top:1339.0px;width:116.2px">15.0%</div>
<div class="pct" style="left:405.2px;top:1339.0px;width:116.2px">17.2%</div>
<div class="pct" style="left:521.4px;top:1339.0px;width:116.2px">40.0%</div>
<div class="pct" style="left:634.2px;top:1339.0px;width:116.2px">17.2%</div>
<div class="lbl" style="top:1385.0px;left:25px">Packaging</div>
<div class="pct" style="left:288.9px;top:1386.0px;width:116.2px">15.0%</div>
<div class="pct" style="left:405.2px;top:1386.0px;width:116.2px">10.3%</div>
<div class="pct" style="left:521.4px;top:1386.0px;width:116.2px">27.5%</div>
<div class="pct" style="left:634.2px;top:1386.0px;width:116.2px">10.4%</div>
<div class="sub" style="left:288.9px;top:950px;width:116.2px">Asian or<br>Asian-American</div>
<div class="tick" style="left:346.0px;top:982.5px"></div>
<div class="sub" style="left:405.2px;top:955.5px;width:116.2px">Hispanic</div>
<div class="tick" style="left:462.3px;top:982.5px"></div>
<div class="sub" style="left:521.4px;top:950px;width:116.2px">Black or African-<br>American</div>
<div class="tick" style="left:578.5px;top:982.5px"></div>
<div class="sub" style="left:634.2px;top:956px;width:116.2px">Caucasian</div>
<div class="tick" style="left:691.3px;top:982.5px"></div>
<div class="a" style="left:0;top:1434px;width:800px;height:1px;background:repeating-linear-gradient(90deg,transparent 0,transparent 0.5px,#8a8a8a 0.5px,#8a8a8a 2.5px,transparent 2.5px,transparent 4px)"></div>
<div class="a" style="left:33px;top:1463px;font-size:15px;letter-spacing:0.1px;color:#707070;white-space:nowrap;line-height:17px">Source: Survey of 514 people</div>
<svg class="a" style="left:0;top:0" width="800" height="1511" viewBox="0 0 800 1511">
<path d="M351,306 C350,296 356,288 365,288 C374,288 380,296 379,306 L379,312 L351,312 Z" fill="#cbc7c3"/>
<ellipse cx="351.5" cy="307.5" rx="2.6" ry="3.4" fill="#5a391b"/><ellipse cx="378.5" cy="307.5" rx="2.6" ry="3.4" fill="#5a391b"/>
<rect x="362" y="318" width="6" height="6" fill="#6e4322"/>
<clipPath id="c1"><rect x="365" y="0" width="100" height="2000"/></clipPath>
<path d="M354,298 C354,292 358,291 361,292 C363,292.5 364,293.5 365,294 C366,293.5 367,292.5 369,292 C372,291 376,292 376,298 L376,310 C376,317 371,321.5 365,321.5 C359,321.5 354,317 354,310 Z" fill="#8b592a"/><path d="M354,298 C354,292 358,291 361,292 C363,292.5 364,293.5 365,294 C366,293.5 367,292.5 369,292 C372,291 376,292 376,298 L376,310 C376,317 371,321.5 365,321.5 C359,321.5 354,317 354,310 Z" fill="#a3672f" clip-path="url(#c1)"/>
<path d="M359.5,313 C359.5,310.5 361,310 365,310 C369,310 370.5,310.5 370.5,313 C370.5,315 369.5,315.5 368,314.5 L362,314.5 C360.5,315.5 359.5,315 359.5,313 Z" fill="#cbc7c3"/>
<path d="M352,337.5 L352,331 C352,326 356,323.5 361,322.5 L369,322.5 C374,323.5 378,326 378,331 L378,337.5 Z" fill="#46e2a4"/>
<path d="M358,323.5 L361,322.5 L365,337.5 Z M372,323.5 L369,322.5 L365,337.5 Z" fill="#a6f2d2"/>
<path d="M360.5,322 L369.5,322 L365,337 Z" fill="#f3f3f3"/><path d="M362,325 L368,325 L365,337 Z" fill="#e4e4e4"/>
<path d="M520,289 C529,289 535.5,295 535.5,305 C535.5,312 534.5,318 533,322 C532,326.5 527.5,326.5 526.5,323 L513.5,323 C512.5,326.5 508,326.5 507,322 C505.5,318 504.5,312 504.5,305 C504.5,295 511,289 520,289 Z" fill="#44573f"/>
<path d="M508.5,338 L508.5,331 C508.5,327 512,325.5 516,325 L524,325 C528,325.5 531.5,327 531.5,331 L531.5,338 Z" fill="#dfb683"/>
<path d="M511,338 L510.5,330 C512,327 515,325.5 517.5,325.5 L522.5,325.5 C525,325.5 528,327 529.5,330 L529,338 Z" fill="#46e2a4"/>
<rect x="517" y="320" width="6" height="6" fill="#dcb080"/>
<path d="M516.5,324.5 L523.5,324.5 L520,328.5 Z" fill="#fafafa"/>
<clipPath id="c2"><rect x="520" y="0" width="100" height="2000"/></clipPath>
<path d="M510,303 C512,299 516,297.5 520,298.5 C524,297.5 528,299 530,303 L530,313 C530,319 525.5,322.5 520,322.5 C514.5,322.5 510,319 510,313 Z" fill="#e6c194"/><path d="M510,303 C512,299 516,297.5 520,298.5 C524,297.5 528,299 530,303 L530,313 C530,319 525.5,322.5 520,322.5 C514.5,322.5 510,319 510,313 Z" fill="#f2d3aa" clip-path="url(#c2)"/>
<path d="M510,302 C513,298 517,297 520,299 C521,301 519,303 517,301.5 C515,303 513,304 510,305 Z" fill="#44573f"/>
<ellipse cx="520" cy="317.3" rx="2.8" ry="1.1" fill="#d76a72"/>
<circle cx="676.5" cy="290.8" r="3.9" fill="#9c7b4c"/>
<ellipse cx="663.5" cy="311.5" rx="2.4" ry="3" fill="#e8b899"/><ellipse cx="687.5" cy="311.5" rx="2.4" ry="3" fill="#e8b899"/>
<rect x="671" y="322" width="9" height="6" fill="#e8c49a"/>
<path d="M664,337.5 L664,333 C664,327.5 668,325.5 672,325.5 L679,325.5 C683,325.5 687,327.5 687,333 L687,337.5 Z" fill="#46e2a4"/>
<path d="M664,312 L664,303 C664,296 669,292.5 675.5,292.5 C682,292.5 687,296 687,303 L687,312 Z" fill="#a88a5a"/>
<clipPath id="c3"><rect x="675.5" y="0" width="100" height="2000"/></clipPath>
<path d="M666,304 C666,301 667,300.5 669,300.5 L682,300.5 C684,300.5 685,301 685,304 L685,315 C685,321 681,325 675.5,325 C670,325 666,321 666,315 Z" fill="#e9c69b"/><path d="M666,304 C666,301 667,300.5 669,300.5 L682,300.5 C684,300.5 685,301 685,304 L685,315 C685,321 681,325 675.5,325 C670,325 666,321 666,315 Z" fill="#f3d5ac" clip-path="url(#c3)"/>
<path d="M665.5,309 L667.5,309 L667.5,314 C670,312 672.5,312 675.5,313 C678.5,312 681,312 683.5,314 L683.5,309 L685.5,309 L685.5,316 C685.5,323 681,326.5 675.5,326.5 C670,326.5 665.5,323 665.5,316 Z" fill="#997040"/>
<path d="M671.5,316 C673,314.8 678,314.8 679.5,316 C678.5,317.5 672.5,317.5 671.5,316 Z" fill="#e5bf94"/>
<ellipse cx="333.5" cy="916" rx="2.1" ry="2.8" fill="#e2b48a"/><ellipse cx="360.5" cy="916" rx="2.1" ry="2.8" fill="#e2b48a"/>
<rect x="343" y="926" width="8.5" height="6" fill="#dcae80"/>
<path d="M334,944.5 L334,937 C334,933 337,931 342,931 L352,931 C357,931 360,933 360,937 L360,944.5 Z" fill="#e07b7b"/>
<rect x="334" y="942" width="2.2" height="2.5" fill="#f0d2a8"/><rect x="357.8" y="942" width="2.2" height="2.5" fill="#f0d2a8"/>
<path d="M342,935.5 L345,938.5 M345,935.5 L342,938.5 M349,935.5 L352,938.5 M352,935.5 L349,938.5" stroke="#f6d8d0" stroke-width="0.8"/>
<clipPath id="c4"><rect x="347" y="0" width="100" height="2000"/></clipPath>
<path d="M337,913 C337,906 341,903 347,903 C353,903 357,906 357,913 L357,918 C357,924.5 352.5,928.5 347,928.5 C341.5,928.5 337,924.5 337,918 Z" fill="#e7c296"/><path d="M337,913 C337,906 341,903 347,903 C353,903 357,906 357,913 L357,918 C357,924.5 352.5,928.5 347,928.5 C341.5,928.5 337,924.5 337,918 Z" fill="#f2d3a9" clip-path="url(#c4)"/>
<path d="M347,896.5 C356,896.5 361,901 361,911 C361,918 360,924 357.5,928.5 L355,927 C356,921 356,914 355,907.5 C351,913 345,915.5 340.5,915 L339.5,925 C336,922 333,917 333,910 C333,901 339,896.5 347,896.5 Z" fill="#141210"/>
<ellipse cx="347" cy="924" rx="2.2" ry="0.9" fill="#e07880"/>
<ellipse cx="450.7" cy="919" rx="2.2" ry="2.8" fill="#c0916c"/><ellipse cx="475.5" cy="919" rx="2.2" ry="2.8" fill="#c0916c"/>
<circle cx="451.5" cy="922" r="0.9" fill="#e98080"/><circle cx="474.5" cy="922" r="0.9" fill="#e98080"/>
<rect x="459" y="928" width="9" height="6" fill="#c9a07a"/>
<path d="M452,944.5 L452,939 C452,935 455,933.5 458,933 L463,940 L468,933 C472,933.5 475,935 475,939 L475,944.5 Z" fill="#c95656"/>
<path d="M458,933 L463,940 L468,933 L466.5,933 L463,937.5 L459.5,933 Z" fill="#e8d4ae"/>
<clipPath id="c5"><rect x="463" y="0" width="100" height="2000"/></clipPath>
<path d="M452.5,914 C452.5,909 456,906.5 463,906.5 C470,906.5 474,909 474,914 L474,920 C474,926 469.5,930 463.2,930 C457,930 452.5,926 452.5,920 Z" fill="#c9a27c"/><path d="M452.5,914 C452.5,909 456,906.5 463,906.5 C470,906.5 474,909 474,914 L474,920 C474,926 469.5,930 463.2,930 C457,930 452.5,926 452.5,920 Z" fill="#d8b48e" clip-path="url(#c5)"/>
<path d="M451,918 C450,906 455,899.5 463,899.5 C466,897.5 473,897 476,902 C477.5,906 476.5,912 475,918 C474,912 472,909 468,908.5 C462,910 456,911 452.5,916 Z" fill="#3b1f16"/>
<path d="M474.5,921 C477.5,923 477.5,931 473,933.5 C469,934.5 467,931 469.5,929 C472,927 473.5,925 474.5,921 Z" fill="#3b1f16"/>
<ellipse cx="463.2" cy="926" rx="1.7" ry="0.8" fill="#6d3030"/>
<ellipse cx="566.8" cy="917" rx="2.6" ry="3.1" fill="#5a3515"/><ellipse cx="592.6" cy="917" rx="2.6" ry="3.1" fill="#5a3515"/>
<rect x="575.5" y="926" width="8.5" height="7" fill="#7b4a20"/>
<path d="M567.6,944.4 L567.6,939.5 C567.6,935 571,932.5 575,932.4 L584.5,932.4 C588.5,932.5 592,935 592,939.5 L592,944.4 Z" fill="#e07b7b"/>
<path d="M574.5,932.4 L579.8,936.5 L585,932.4 L583.5,932.4 L579.8,935 L576,932.4 Z" fill="#f7e6c2"/>
<path d="M567.25,912 C567.25,902 573,897.9 579.7,897.9 C586.5,897.9 592,902 592,912 L592,917 C592,924.5 587,929 579.7,929 C572.5,929 567.25,924.5 567.25,917 Z" fill="#3e2410"/>
<clipPath id="c6"><rect x="579.7" y="0" width="100" height="2000"/></clipPath>
<path d="M568.5,913 C568.5,904 573.5,900 579.7,900 C586,900 590.8,904 590.8,913 L590.8,917 C590.8,924 586,928 579.7,928 C573.5,928 568.5,924 568.5,917 Z" fill="#8a5628"/><path d="M568.5,913 C568.5,904 573.5,900 579.7,900 C586,900 590.8,904 590.8,913 L590.8,917 C590.8,924 586,928 579.7,928 C573.5,928 568.5,924 568.5,917 Z" fill="#a3662f" clip-path="url(#c6)"/>
<ellipse cx="678.5" cy="917.5" rx="2.3" ry="2.9" fill="#e2b086"/><ellipse cx="705.5" cy="917.5" rx="2.3" ry="2.9" fill="#e2b086"/>
<rect x="688" y="926" width="8.5" height="7" fill="#dcaa80"/>
<path d="M680,944.4 L680,939.5 C680,935 683.5,932 688,931.8 L696.5,931.8 C701,932 704,935 704,939.5 L704,944.4 Z" fill="#e07b7b"/>
<path d="M687.5,931.5 L692.2,934 L697,931.5 L697,936 L694,935 L692.2,937.5 L690.5,935 L687.5,936 Z" fill="#ffffff"/>
<path d="M678,915 C677,904 682,895 692,895 C698,895 703,897 705,900.5 C706,901.5 707.5,901 707.8,901.5 C707,903 705.5,903 704,903.5 C706,907 705.5,912 704.5,917 L678.5,917 Z" fill="#d57573"/>
<clipPath id="c7"><rect x="692" y="0" width="100" height="2000"/></clipPath>
<path d="M681,909 C681,905 684,904 687,904.5 C689.5,905 691,906 692,907 C693,906 694.5,905 697,904.5 C700.5,904 702.7,905 702.7,909 L702.7,918 C702.7,924.5 698,928.6 692,928.6 C686,928.6 681,924.5 681,918 Z" fill="#e7c397"/><path d="M681,909 C681,905 684,904 687,904.5 C689.5,905 691,906 692,907 C693,906 694.5,905 697,904.5 C700.5,904 702.7,905 702.7,909 L702.7,918 C702.7,924.5 698,928.6 692,928.6 C686,928.6 681,924.5 681,918 Z" fill="#f2d4ab" clip-path="url(#c7)"/>
</svg>
<svg class="a" style="left:0;top:0" width="800" height="1511" viewBox="0 0 800 1511">
<g>
<path d="M642.5,1470 C642.5,1462 648.5,1455.8 656.5,1455.8 L659,1455.8 L643.5,1472 Z" fill="#7e9dc2"/>
<path d="M644.5,1474 L664,1455 L668.5,1457 L646.5,1479.5 Z" fill="#3f8a9b"/>
<path d="M648,1481.5 L670,1460 C671.5,1462 672,1464 672.3,1466 L651.5,1486 C650,1485 649,1483.5 648,1481.5 Z" fill="#2b5285"/>
<path d="M654.5,1486.5 L672.5,1469.5 C672,1479 665,1486.5 657,1486.5 Z" fill="#1e3d8c"/>
</g>
<text x="675" y="1479" font-family="Liberation Sans" font-weight="bold" font-size="33" fill="#4b4b4f" stroke="#4b4b4f" stroke-width="1.2" textLength="85" lengthAdjust="spacingAndGlyphs">signs</text>
<text x="723" y="1488" font-family="Liberation Sans" font-weight="bold" font-size="9" fill="#4b4b4f" textLength="18" lengthAdjust="spacingAndGlyphs">.com</text>
</svg>
</body></html>
